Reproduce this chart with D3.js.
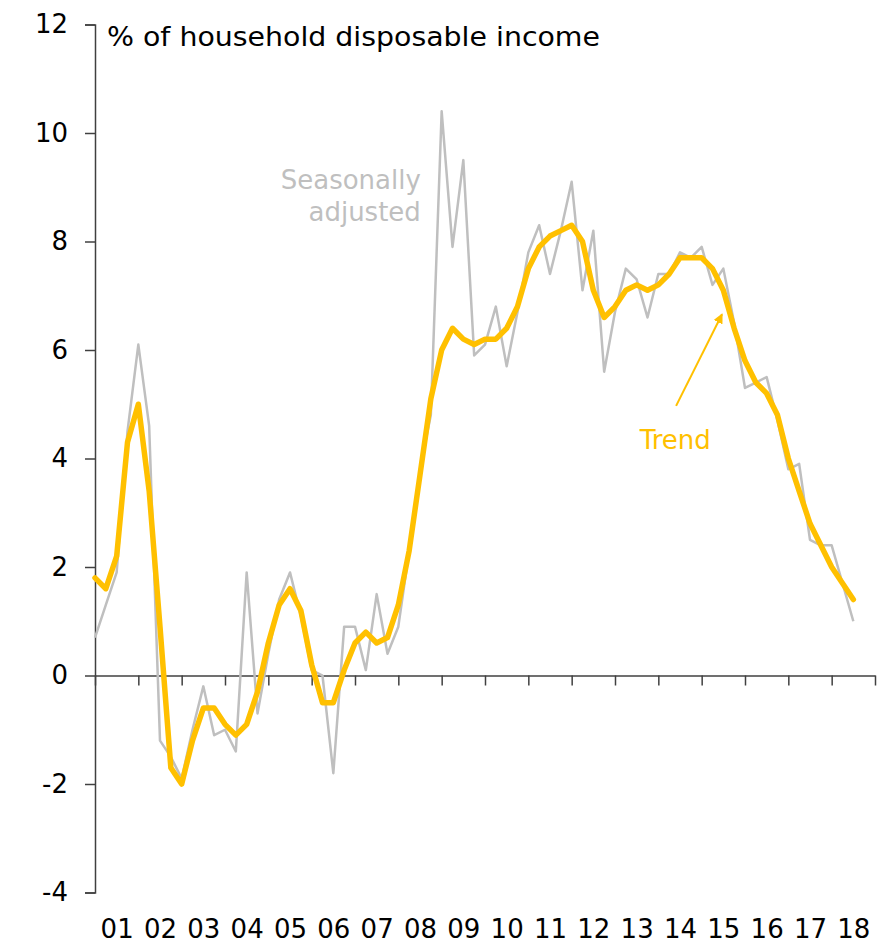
<!DOCTYPE html>
<html>
<head>
<meta charset="utf-8">
<script src="https://cdn.jsdelivr.net/npm/d3@7"></script>
<style>
  html, body { margin: 0; padding: 0; background: #fff; }
  svg { display: block; }
  text { font-family: "DejaVu Sans", sans-serif; }
</style>
</head>
<body>
<div id="chart"></div>
<script>
// Quarterly, March 2001 to September 2018
const startYear = 2001;
const seasonallyAdjusted = [
  0.7, 1.3, 1.9, 4.5, 6.1, 4.6, -1.2, -1.5, -1.9, -1.0,
  -0.2, -1.1, -1.0, -1.4, 1.9, -0.7, 0.4, 1.4, 1.9, 1.1,
  0.1, 0.0, -1.8, 0.9, 0.9, 0.1, 1.5, 0.4, 0.9, 2.3,
  3.8, 4.8, 10.4, 7.9, 9.5, 5.9, 6.1, 6.8, 5.7, 6.7,
  7.8, 8.3, 7.4, 8.2, 9.1, 7.1, 8.2, 5.6, 6.7, 7.5,
  7.3, 6.6, 7.4, 7.4, 7.8, 7.7, 7.9, 7.2, 7.5, 6.5,
  5.3, 5.4, 5.5, 4.7, 3.8, 3.9, 2.5, 2.4, 2.4, 1.7,
  1.0
];
const trend = [
  1.8, 1.6, 2.2, 4.3, 5.0, 3.4, 0.9, -1.7, -2.0, -1.2,
  -0.6, -0.6, -0.9, -1.1, -0.9, -0.3, 0.6, 1.3, 1.6, 1.2,
  0.2, -0.5, -0.5, 0.1, 0.6, 0.8, 0.6, 0.7, 1.3, 2.3,
  3.7, 5.1, 6.0, 6.4, 6.2, 6.1, 6.2, 6.2, 6.4, 6.8,
  7.5, 7.9, 8.1, 8.2, 8.3, 8.0, 7.1, 6.6, 6.8, 7.1,
  7.2, 7.1, 7.2, 7.4, 7.7, 7.7, 7.7, 7.5, 7.1, 6.4,
  5.8, 5.4, 5.2, 4.8, 4.0, 3.4, 2.8, 2.4, 2.0, 1.7,
  1.4
];
const yearTicks = d3.range(2001, 2020);
const yearLabels = ["01","02","03","04","05","06","07","08","09","10","11","12","13","14","15","16","17","18"];
const yTicks = [-4, -2, 0, 2, 4, 6, 8, 10, 12];
const yTitle = "% of household disposable income";

const W = 886, H = 945;
const svg = d3.select("#chart").append("svg").attr("width", W).attr("height", H);

const x = d3.scaleLinear().domain([2001, 2019]).range([95, 875]);
const y = d3.scaleLinear().domain([-4, 12]).range([892.5, 24.5]);

const fontSize = 26;
const axisColor = "#404040";

// Y axis
const yAxis = svg.append("g")
  .attr("transform", `translate(${x(2001)},0)`)
  .call(d3.axisLeft(y).tickValues(yTicks).tickSize(10).tickPadding(17).tickFormat(d => String(d)));
yAxis.select(".domain").attr("stroke", axisColor).attr("stroke-width", 1.5);
yAxis.selectAll(".tick line").attr("stroke", axisColor).attr("stroke-width", 1.5);
yAxis.selectAll(".tick text").attr("font-size", fontSize).attr("fill", "#000")
  .attr("font-family", "DejaVu Sans, sans-serif");

// X axis (zero line with year ticks)
const xAxis = svg.append("g")
  .attr("transform", `translate(0,${y(0)})`)
  .call(d3.axisBottom(x).tickValues(yearTicks).tickSize(10).tickSizeOuter(0).tickFormat(""));
xAxis.select(".domain").attr("stroke", axisColor).attr("stroke-width", 1.5);
xAxis.selectAll(".tick line").attr("stroke", axisColor).attr("stroke-width", 1.5);

// Year labels at the bottom, centred within each year
const labelAxis = svg.append("g")
  .attr("transform", `translate(0,${y(-4)})`)
  .call(d3.axisBottom(x)
    .tickValues(yearLabels.map((d, i) => 2001.5 + i))
    .tickSize(0).tickPadding(27)
    .tickFormat((d, i) => yearLabels[i]));
labelAxis.select(".domain").remove();
labelAxis.selectAll(".tick text").attr("font-size", fontSize).attr("fill", "#000")
  .attr("font-family", "DejaVu Sans, sans-serif");

// Lines
const qx = (d, i) => x(startYear + i / 4);
const line = d3.line().x(qx).y(d => y(d));

svg.append("path").datum(seasonallyAdjusted)
  .attr("fill", "none").attr("stroke", "#BFBFBF").attr("stroke-width", 2.5)
  .attr("stroke-linejoin", "round").attr("d", line);

svg.append("path").datum(trend)
  .attr("fill", "none").attr("stroke", "#FFC000").attr("stroke-width", 5.5)
  .attr("stroke-linejoin", "round").attr("stroke-linecap", "round").attr("d", line);

// Title
svg.append("text").attr("x", 107).attr("y", 46)
  .attr("font-size", fontSize).attr("fill", "#000")
  .attr("textLength", 493).attr("lengthAdjust", "spacingAndGlyphs")
  .text(yTitle);

// Annotations
const saLabel = svg.append("text").attr("text-anchor", "end").attr("fill", "#BFBFBF").attr("font-size", fontSize);
saLabel.append("tspan").attr("x", x(2008.52)).attr("y", y(9.13) + 9).text("Seasonally");
saLabel.append("tspan").attr("x", x(2008.52)).attr("y", y(8.54) + 9).text("adjusted");

svg.append("text").attr("text-anchor", "middle").attr("fill", "#FFC000").attr("font-size", fontSize)
  .attr("x", x(2014.39)).attr("y", y(4.34) + 9).text("Trend");

svg.append("defs").append("marker")
  .attr("id", "arrow").attr("viewBox", "0 0 10 10").attr("refX", 9).attr("refY", 5)
  .attr("markerWidth", 5).attr("markerHeight", 5).attr("orient", "auto")
  .append("path").attr("d", "M0,0 L10,5 L0,10 z").attr("fill", "#FFC000");

svg.append("line")
  .attr("x1", x(2014.41)).attr("y1", y(4.97))
  .attr("x2", x(2015.47)).attr("y2", y(6.66))
  .attr("stroke", "#FFC000").attr("stroke-width", 2)
  .attr("marker-end", "url(#arrow)");
</script>
</body>
</html>
